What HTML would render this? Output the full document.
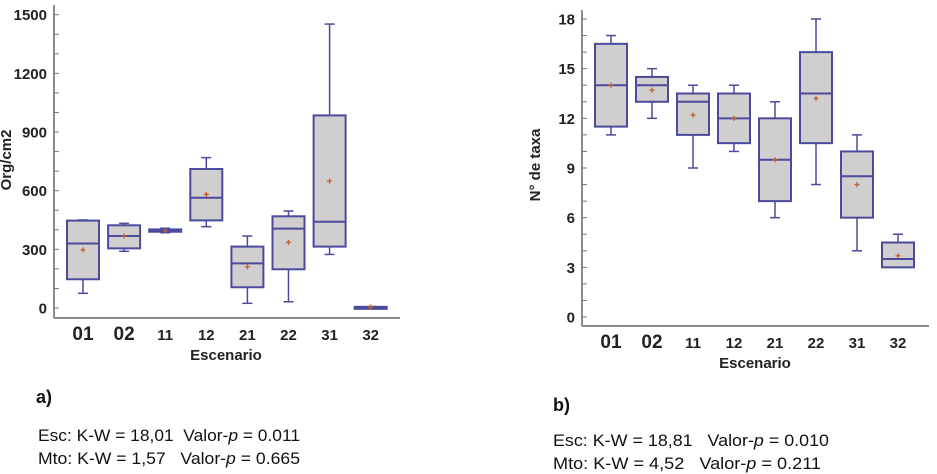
<!DOCTYPE html>
<html><head><meta charset="utf-8"><style>
html,body{margin:0;padding:0;background:#fff}
svg{display:block}
.tk{font-family:"Liberation Sans",Arial,sans-serif;font-weight:bold;fill:#222}
.cap{font-family:"Liberation Sans Narrow","Liberation Sans",sans-serif;fill:#111;white-space:pre}
</style></head><body>
<svg id="c" width="937" height="474" viewBox="0 0 937 474" xmlns="http://www.w3.org/2000/svg">
<g id="left"></g>
<g id="right"></g>
<text class="cap" x="36" y="403" font-size="18" font-weight="bold">a)</text>
<text class="cap" x="38" y="441" font-size="17" textLength="262" lengthAdjust="spacingAndGlyphs">Esc: K-W = 18,01  Valor-<tspan font-style="italic">p</tspan> = 0.011</text>
<text class="cap" x="38" y="464" font-size="17" textLength="262" lengthAdjust="spacingAndGlyphs">Mto: K-W = 1,57   Valor-<tspan font-style="italic">p</tspan> = 0.665</text>
<text class="cap" x="553" y="411" font-size="18" font-weight="bold">b)</text>
<text class="cap" x="553" y="446" font-size="17" textLength="276" lengthAdjust="spacingAndGlyphs">Esc: K-W = 18,81   Valor-<tspan font-style="italic">p</tspan> = 0.010</text>
<text class="cap" x="553" y="469" font-size="17" textLength="268" lengthAdjust="spacingAndGlyphs">Mto: K-W = 4,52   Valor-<tspan font-style="italic">p</tspan> = 0.211</text>
</svg>
<script>
const categories = ["01","02","11","12","21","22","31","32"];
const orgMin = [75,290,385,416,24,32,274,3];
const orgQ1 = [147,305,390,448,106,198,314,4];
const orgMed = [330,368,395,564,228,406,441,5];
const orgQ3 = [447,423,402,711,314,469,985,6];
const orgMax = [450,433,408,769,368,496,1452,7];
const orgMean = [297,368,395,581,211,336,649,5];
const orgTicks = [0,300,600,900,1200,1500];
const taxMin = [11,12,9,10,6,8,4,3];
const taxQ1 = [11.5,13,11,10.5,7,10.5,6,3];
const taxMed = [14,14,13,12,9.5,13.5,8.5,3.5];
const taxQ3 = [16.5,14.5,13.5,13.5,12,16,10,4.5];
const taxMax = [17,15,14,14,13,18,11,5];
const taxMean = [14,13.7,12.2,12,9.5,13.2,8,3.7];
const taxTicks = [0,3,6,9,12,15,18];

const NS="http://www.w3.org/2000/svg";
function mk(p,t,a){const e=document.createElementNS(NS,t);for(const k in a)e.setAttribute(k,a[k]);p.appendChild(e);return e;}
const STROKE="#4b4a9c";

function chart(g,o){
  const y=v=>o.y0-(v-o.vmin)/(o.vmax-o.vmin)*(o.y0-o.y1);
  const x=i=>o.xs+i*o.dx;
  let ax=mk(g,"line",{x1:o.ax,y1:o.axTop,x2:o.ax,y2:o.axB,stroke:"#666","stroke-width":1.5});
  
  
  let bx=mk(g,"line",{x1:o.ax,y1:o.axB,x2:o.axR,y2:o.axB,stroke:"#666","stroke-width":1.5});
  
  
  const step=o.ticks[1]-o.ticks[0];
  for(let v=o.ticks[0];v<=o.ticks[o.ticks.length-1]+1e-9;v+=step/o.minor){
    const t=mk(g,"line",{x1:o.ax,y1:y(v),x2:o.ax+5,y2:y(v),stroke:"#777","stroke-width":1});
    
    
  }
  o.ticks.forEach(v=>{
    const t=mk(g,"text",{x:o.ax-7,y:y(v)+5.5,"text-anchor":"end","font-size":15,class:"tk"});
    t.textContent=v;
    
    
  });
  const yt=mk(g,"text",{x:0,y:0,transform:`translate(${o.ytx},${o.yty}) rotate(-90)`,"text-anchor":"middle","font-size":15,class:"tk"});
  yt.textContent=o.ytitle;
  
  
  const xt=mk(g,"text",{x:o.xtx,y:o.xty,"text-anchor":"middle","font-size":15,class:"tk",fill:"#333"});
  xt.textContent="Escenario";
  
  
  categories.forEach((c,i)=>{
    const cx=x(i),hw=16;
    const big=i<2;
    const l=mk(g,"text",{x:cx,y:o.lblY,"text-anchor":"middle","font-size":big?19:15,class:"tk"});
    l.textContent=c;
    
    
    const bg=mk(g,"g",{});
    
    
    mk(bg,"line",{x1:cx,y1:y(o.mn[i]),x2:cx,y2:y(o.q1[i]),stroke:STROKE,"stroke-width":1.5});
    mk(bg,"line",{x1:cx,y1:y(o.q3[i]),x2:cx,y2:y(o.mx[i]),stroke:STROKE,"stroke-width":1.5});
    mk(bg,"line",{x1:cx-5,y1:y(o.mn[i]),x2:cx+5,y2:y(o.mn[i]),stroke:STROKE,"stroke-width":1.5});
    mk(bg,"line",{x1:cx-5,y1:y(o.mx[i]),x2:cx+5,y2:y(o.mx[i]),stroke:STROKE,"stroke-width":1.5});
    const h=Math.max(2,y(o.q1[i])-y(o.q3[i]));
    mk(bg,"rect",{x:cx-hw,y:y(o.q3[i]),width:2*hw,height:h,fill:"#d0cece",stroke:STROKE,"stroke-width":2});
    mk(bg,"line",{x1:cx-hw,y1:y(o.md[i]),x2:cx+hw,y2:y(o.md[i]),stroke:STROKE,"stroke-width":2});
    const my=y(o.me[i]);
    mk(bg,"line",{x1:cx-2.5,y1:my,x2:cx+2.5,y2:my,stroke:"#c0602a","stroke-width":1.3});
    mk(bg,"line",{x1:cx,y1:my-2.5,x2:cx,y2:my+2.5,stroke:"#c0602a","stroke-width":1.3});
  });
}
chart(document.getElementById("left"),{vmin:0,vmax:1500,y0:308,y1:14.7,ax:54,axTop:5,axB:318,axR:400,xs:83,dx:41.1,
  ticks:orgTicks,minor:3,mn:orgMin,q1:orgQ1,md:orgMed,q3:orgQ3,mx:orgMax,me:orgMean,
  ytitle:"Org/cm2",ytx:11,yty:160,xtx:226,xty:360,lblY:340});
chart(document.getElementById("right"),{vmin:0,vmax:18,y0:317,y1:19,ax:582,axTop:10,axB:326,axR:929,xs:611,dx:41,
  ticks:taxTicks,minor:3,mn:taxMin,q1:taxQ1,md:taxMed,q3:taxQ3,mx:taxMax,me:taxMean,
  ytitle:"N° de taxa",ytx:540,yty:165,xtx:755,xty:368,lblY:348});
</script>
</body></html>
